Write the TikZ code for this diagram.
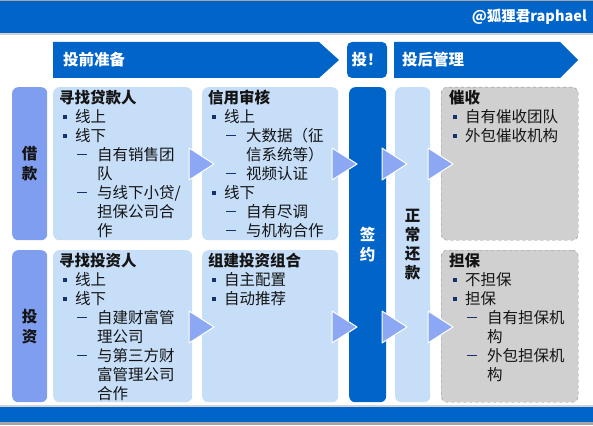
\documentclass[tikz,border=0pt]{standalone}
\usepackage{fontspec}
\setmainfont{Noto Sans CJK SC}
\usetikzlibrary{calc}

\definecolor{barblue}{RGB}{0,100,200}
\definecolor{lightblue}{RGB}{198,222,248}
\definecolor{labelblue}{RGB}{128,158,240}
\definecolor{triblue}{RGB}{140,168,245}
\definecolor{boxgray}{RGB}{208,208,208}
\definecolor{dashgray}{RGB}{140,140,140}
\definecolor{navy}{RGB}{20,50,110}
\definecolor{inkgray}{RGB}{20,20,20}

% marcadores das listas
\newcommand{\sqb}{\textcolor{navy}{\rule[0.22em]{0.27em}{0.27em}}}
\newcommand{\dsh}{\textcolor{navy}{\rule[0.34em]{0.65em}{0.07em}}}
\newcommand{\lvA}[1]{\makebox[16pt][l]{\hspace{4pt}\sqb}#1}
\newcommand{\lvB}[1]{\makebox[38pt][l]{\hspace{18pt}\dsh}#1}
\newcommand{\lvC}[1]{\makebox[38pt]{}#1}

\begin{document}
\begin{tikzpicture}[x=1pt, y=-1pt]
  \tikzstyle{card}=[rectangle, rounded corners=6pt, fill=lightblue, inner sep=0pt, anchor=north west]
  \tikzstyle{side}=[rectangle, rounded corners=6pt, fill=labelblue, inner sep=0pt, anchor=north west]
  \tikzstyle{grey}=[rectangle, rounded corners=6pt, fill=boxgray, draw=dashgray, dashed, inner sep=0pt, anchor=north west]
  \tikzstyle{txt}=[align=left, inner sep=0pt, anchor=north west, text=inkgray,
                   font=\fontsize{15.5}{19}\selectfont]
  \tikzstyle{vert}=[align=center, inner sep=0pt, text=inkgray, font=\bfseries\fontsize{15.5}{20}\selectfont]
  \tikzstyle{head}=[inner sep=0pt, text=white, font=\bfseries\fontsize{15.5}{15.5}\selectfont]
  \tikzstyle{chev}=[fill=triblue, draw=white, line width=1pt, line join=round]

  \useasboundingbox (0,0) rectangle (593,425);

  % Faixas de cima e de baixo
  \fill[gray!70] (0,0) rectangle (593,1);
  \fill[barblue] (0,1) rectangle (593,33);
  \fill[gray!35] (0,33) rectangle (593,35);
  \node[head, anchor=east, font=\bfseries\fontsize{14.5}{14.5}\selectfont] (mark) at (587,17) {@狐狸君raphael};
  \fill[gray!35] (0,405) rectangle (593,407);
  \fill[barblue] (0,407) rectangle (593,422);
  \fill[gray!70] (0,422) rectangle (593,425);

  % Fases
  \fill[barblue] (53,42) -- (319,42) -- (339,60) -- (319,78) -- (53,78) -- cycle;
  \node[head, anchor=west] (pre) at (63,60) {投前准备};
  \node[rectangle, rounded corners=5pt, fill=barblue, minimum width=40pt, minimum height=36pt,
        inner sep=0pt, text=white, font=\bfseries\fontsize{15.5}{15.5}\selectfont] (sign) at (367,60) {投！};
  \fill[barblue] (394,42) -- (560,42) -- (578,60) -- (560,78) -- (394,78) -- cycle;
  \node[head, anchor=west] (post) at (402,60) {投后管理};

  % Linha 1:借款
  \node[side, minimum width=35pt, minimum height=153pt] (loan) at (12,87) {};
  \node[vert] (loanlbl) at (loan.center) {借\\款};
  \node[card, minimum width=139pt, minimum height=153pt] (findB) at (53,87) {};
  \node[txt] (findBtxt) at ([xshift=6pt, yshift=-3pt]findB.north west)
    {\textbf{寻找贷款人}\\ \lvA{线上}\\ \lvA{线下}\\ \lvB{自有销售团}\\ \lvC{队}\\
     \lvB{与线下小贷/}\\ \lvC{担保公司合}\\ \lvC{作}};
  \node[card, minimum width=136pt, minimum height=153pt] (credit) at (202,87) {};
  \node[txt] (credittxt) at ([xshift=6pt, yshift=-3pt]credit.north west)
    {\textbf{信用审核}\\ \lvA{线上}\\ \lvB{大数据（征}\\ \lvC{信系统等）}\\ \lvB{视频认证}\\
     \lvA{线下}\\ \lvB{自有尽调}\\ \lvB{与机构合作}};
  \node[grey, minimum width=137pt, minimum height=153pt] (collect) at (441,87) {};
  \node[txt] (collecttxt) at ([xshift=8pt, yshift=-3pt]collect.north west)
    {\textbf{催收}\\ \lvA{自有催收团队}\\ \lvA{外包催收机构}};

  % Linha 2: 投资
  \node[side, minimum width=35pt, minimum height=152pt] (invest) at (12,250) {};
  \node[vert] (investlbl) at (invest.center) {投\\资};
  \node[card, minimum width=139pt, minimum height=152pt] (findI) at (53,250) {};
  \node[txt] (findItxt) at ([xshift=6pt, yshift=-3pt]findI.north west)
    {\textbf{寻找投资人}\\ \lvA{线上}\\ \lvA{线下}\\ \lvB{自建财富管}\\ \lvC{理公司}\\
     \lvB{与第三方财}\\ \lvC{富管理公司}\\ \lvC{合作}};
  \node[card, minimum width=136pt, minimum height=152pt] (combo) at (202,250) {};
  \node[txt] (combotxt) at ([xshift=6pt, yshift=-3pt]combo.north west)
    {\textbf{组建投资组合}\\ \lvA{自主配置}\\ \lvA{自动推荐}};
  \node[grey, minimum width=137pt, minimum height=152pt] (guar) at (441,250) {};
  \node[txt] (guartxt) at ([xshift=8pt, yshift=-3pt]guar.north west)
    {\textbf{担保}\\ \lvA{不担保}\\ \lvA{担保}\\ \lvB{自有担保机}\\ \lvC{构}\\
     \lvB{外包担保机}\\ \lvC{构}};

  % Colunas comuns
  \node[card, fill=barblue, minimum width=37pt, minimum height=315pt] (deal) at (349,87) {};
  \node[vert, text=white] (deallbl) at (deal.center) {签\\约};
  \node[card, minimum width=35pt, minimum height=315pt] (repay) at (395,87) {};
  \node[vert, font=\bfseries\fontsize{15.5}{19}\selectfont] (repaylbl) at (repay.center) {正\\常\\还\\款};

  % Setas
  \foreach \x/\y in {189/148, 332/148, 382/148, 428/148, 189/311, 332/311, 382/311, 428/311}
    \filldraw[chev] (\x,\y) -- ++(25,16) -- ++(-25,16) -- cycle;
\end{tikzpicture}
\end{document}
